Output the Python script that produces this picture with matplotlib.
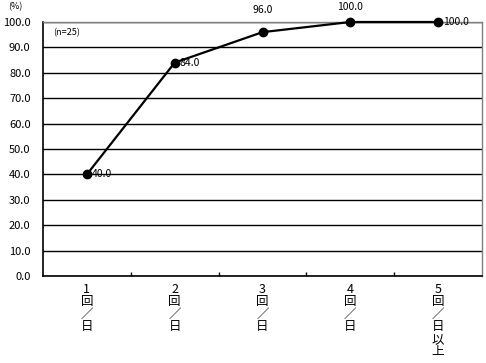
import matplotlib
matplotlib.use("Agg")
import matplotlib.pyplot as plt

plt.rcParams['font.family'] = ['Noto Sans CJK JP', 'DejaVu Sans']

categories = ["1\n回\n／\n日", "2\n回\n／\n日", "3\n回\n／\n日", "4\n回\n／\n日", "5\n回\n／\n日\n以\n上"]
values = [40.0, 84.0, 96.0, 100.0, 100.0]

fig = plt.figure(figsize=(4.86, 3.63), dpi=100)
ax = fig.add_axes([43 / 486, 1 - 276 / 363, (482 - 43) / 486, (276 - 22) / 363])

x = list(range(len(values)))
ax.plot(x, values, color="black", lw=1.6, marker="o", ms=6, zorder=3, clip_on=False)

# label placement: right of point, or above it (offset in points)
above = {2: 16, 3: 11}
for xi, v in zip(x, values):
    if xi in above:
        ax.annotate(f"{v:.1f}", (xi, v), xytext=(0, above[xi]), textcoords="offset points",
                    ha="center", va="center", fontsize=7.5)
    else:
        ax.text(xi + 0.06, v, f"{v:.1f}", ha="left", va="center", fontsize=7.5)

ax.set_xlim(-0.5, len(values) - 0.5)
ax.set_ylim(0, 100)
ax.set_yticks(range(0, 101, 10))
ax.set_yticklabels([f"{t:.1f}" for t in range(0, 101, 10)], fontsize=8)
ax.yaxis.grid(True, color="black", lw=1)
ax.set_axisbelow(True)

ax.set_xticks([i + 0.5 for i in range(len(values) - 1)])
ax.set_xticklabels([])
ax.tick_params(axis="x", direction="in", length=3, width=1)
ax.tick_params(axis="y", length=0, pad=9)
ax.set_xticks(x, minor=True)
ax.set_xticklabels(categories, minor=True, fontsize=9, linespacing=0.95, va="top")
ax.tick_params(axis="x", which="minor", length=0, pad=5)

for s in ["top", "right"]:
    ax.spines[s].set_color("#808080")
    ax.spines[s].set_linewidth(1)
for s in ["left", "bottom"]:
    ax.spines[s].set_color("black")
    ax.spines[s].set_linewidth(1.2)

fig.text(8 / 486, 1 - 7 / 363, "(%)", ha="left", va="center", fontsize=6.5)
ax.text(10 / 439, 1 - 11 / 254, "(n=25)", transform=ax.transAxes, ha="left", va="center", fontsize=6.5)

fig.savefig("out.png", dpi=100, facecolor="white")
